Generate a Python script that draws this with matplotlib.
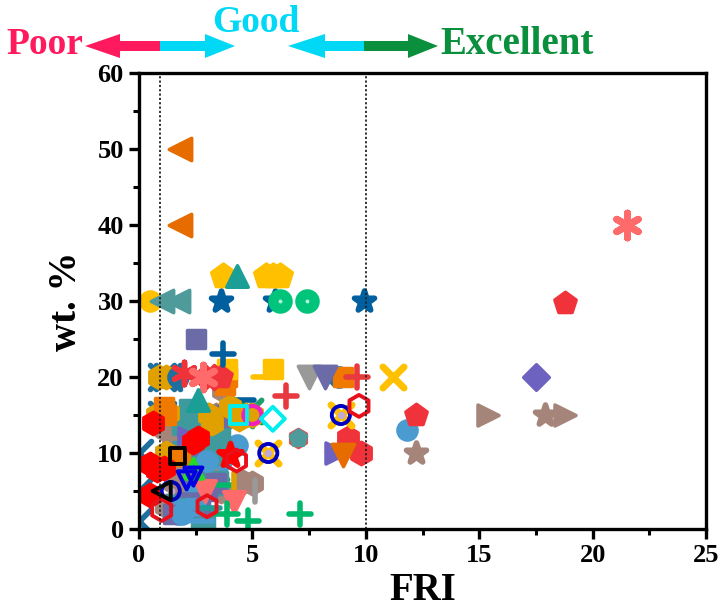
import matplotlib
matplotlib.use('Agg')
import matplotlib.pyplot as plt
from matplotlib.patches import Polygon
from matplotlib.ticker import MultipleLocator
from matplotlib.transforms import Affine2D

plt.rcParams['font.family'] = ['Liberation Serif', 'DejaVu Serif']
plt.rcParams['font.weight'] = 'bold'

# values, drawn back to front
blue_cross_x = [0.0, 0.0, 0.0, 1.0, 1.0, 1.3]
blue_cross_y = [10, 5, 1, 20, 15, 20]
green_cross_x = [4.5, 4.9, 3.2, 3.4]
green_cross_y = [15, 15.5, 10, 8]
taupe_hex_x = [1.3, 2.1, 1.6, 3.0, 3.2, 4.6, 5.0, 3.7, 2.6, 1.2, 1.5, 1.3, 1.6, 3.6, 3.4, 1.2]
taupe_hex_y = [14, 12, 9, 7, 10, 6.2, 6, 18.3, 13, 13, 11, 8, 6, 5, 15, 3]
teal_hex_x = [2.0, 2.6, 2.3, 1.7, 3.3, 3.4, 2.8, 2.3, 2.6, 2.4, 3.5, 2.0]
teal_hex_y = [14, 15, 13, 3, 10, 6, 1.5, 15.5, 13.5, 11.5, 12, 10]
slate_sq_x = [2.5, 3.6, 2.3, 3.0, 2.7, 1.5, 2.4, 3.6, 3.4]
slate_sq_y = [25, 15, 11, 5, 3, 2, 7, 14.8, 6]
purple_right_x = [8.7, 2.2]
purple_right_y = [10, 12]
mid_blue_x = [11.8, 2.7, 3.2, 2.4, 1.7, 2.0, 2.9, 3.6, 4.3, 2.5]
mid_blue_y = [13, 9.5, 7, 4, 2, 6, 11, 9, 11, 8]
top_blue_x = [3.0, 2.5, 1.9]
top_blue_y = [9, 4, 2]
minus_x = [4.6, 1.9, 2.3, 2.8, 2.2, 3.1, 2.6, 5.5, 3.7]
minus_y = [17, 3.5, 2, 1, 4.5, 2.8, 5.5, 20, 5.8]
minus_col = ['#005F9E', '#4A9BCF', '#4A9BCF', '#4A9BCF', '#6B6BA8', '#1A9E96',
             '#4A9BCF', '#FFC000', '#00B86B']
amber_hex_x = [0.9, 1.2, 0.9, 4.7, 5.0, 4.0, 4.4, 1.2, 0.8, 1.3, 3.1, 3.2]
amber_hex_y = [20, 20, 15, 15, 15, 16, 14.5, 10, 15, 15.3, 15, 14]
bar_x = [4.2, 5.1]
bar_y = [6, 5]
bar_col = ['#E0A000', '#999999']
blue_dot_x = [1.7, 8.8]
blue_dot_y = [20, 20]
orange_sq_x = [3.9, 3.8, 9.0, 1.8, 1.2, 1.1]
orange_sq_y = [20, 19, 20, 9.6, 15, 16]
gold_sq_x = [5.9, 3.9]
gold_sq_y = [21, 21]
pure_red_x = [0.6, 0.5, 0.5, 2.4, 2.6, 0.8, 1.1]
pure_red_y = [14, 8.5, 4.5, 11.5, 12, 7.8, 8]
red_hex_x = [9.2, 9.8]
red_hex_y = [12, 10]
red_star_x = [4.0]
red_star_y = [9.8]
red_dia_x = [3.3, 2.9]
red_dia_y = [20, 20]
red_pent_x = [18.8, 12.2, 3.6]
red_pent_y = [29.7, 15, 20]
pink_ast_x = [2.8, 21.5]
pink_ast_y = [20, 40]
red_ast_x = [2.0]
red_ast_y = [20.5]
pink_down_x = [4.2, 2.9]
pink_down_y = [3.5, 5]
grey_down_x = [7.5]
grey_down_y = [20]
slate_down_x = [8.2]
slate_down_y = [20]
orange_down_x = [9.0]
orange_down_y = [9.7]
taupe_right_x = [15.4, 18.8]
taupe_right_y = [15, 15]
taupe_star_x = [17.9, 12.2]
taupe_star_y = [15, 10]
orange_left_x = [1.8, 1.8]
orange_left_y = [50, 40]
teal_left_x = [1.0, 1.7]
teal_left_y = [30, 30]
gold_circ_x = [0.5]
gold_circ_y = [30]
blue_star_x = [3.6, 6.0, 9.9]
blue_star_y = [30, 30, 30]
green_circ_x = [6.2, 7.4]
green_circ_y = [30, 30]
gold_pent_x = [3.7, 5.6, 5.9, 6.2]
gold_pent_y = [33.3, 33.3, 33.3, 33.3]
teal_tri_x = [4.3, 2.6]
teal_tri_y = [33.3, 17]
teal_pent_x = [7.0]
teal_pent_y = [12]
purple_dia_x = [17.5]
purple_dia_y = [20]
gold_cross_x = [11.2, 8.9, 5.7]
gold_cross_y = [20, 15, 10]
red_plus_x = [9.6, 6.5]
red_plus_y = [20, 17.5]
blue_plus_x = [3.7]
blue_plus_y = [23]
green_plus_x = [3.9, 4.8, 7.1]
green_plus_y = [2, 1, 2]
mag_ring_x = [5.0]
mag_ring_y = [15]
blue_ring_x = [8.9, 5.7, 1.4]
blue_ring_y = [15, 10, 5]
red_ring_x = [9.7, 4.3, 3.0, 1.0]
red_ring_y = [16.2, 9, 3, 2.5]
black_sq_x = [1.7]
black_sq_y = [9.6]
cyan_sq_x = [4.4]
cyan_sq_y = [15]
cyan_dia_x = [5.9]
cyan_dia_y = [14.5]
green_tri_x = [2.4]
green_tri_y = [7.9]
blue_down_x = [2.1, 2.4]
blue_down_y = [6.4, 6.9]
black_left_x = [1.0]
black_left_y = [5]

fig = plt.figure(figsize=(7.25, 6.12), dpi=100)
ax = fig.add_axes([139 / 725, 83 / 612, 567 / 725, 456 / 612])


def solid(xs, ys, marker, color, size=170, lw=2.5):
    pts = ax.scatter(xs, ys, marker=marker, s=size, c=color, edgecolors=color,
                     linewidths=lw, zorder=2)
    pts.set_joinstyle('round')


def stroke(xs, ys, marker, color, size=230, lw=4):
    pts = ax.scatter(xs, ys, marker=marker, s=size, c=color, linewidths=lw, zorder=2)
    pts.set_capstyle('round')


def ring(xs, ys, marker, color, size=130, lw=2.5):
    ax.scatter(xs, ys, marker=marker, s=size, facecolors='none', edgecolors=color,
               linewidths=lw, zorder=2)


stroke(blue_cross_x, blue_cross_y, 'x', '#1F6F9E', 300)
stroke(green_cross_x, green_cross_y, 'x', '#1F9E70', 260)
solid(mid_blue_x, mid_blue_y, 'o', '#4A9BCF', 190)
solid(taupe_hex_x, taupe_hex_y, 'h', '#A5857A', 260)
solid(teal_hex_x, teal_hex_y, 's', '#3F9A9E', 240)
solid(slate_sq_x, slate_sq_y, 's', '#6B6BA8', 170)
solid(purple_right_x, purple_right_y, '>', '#6E62C0', 230)
solid(top_blue_x, top_blue_y, 'o', '#4A9BCF', 190)
stroke(minus_x, minus_y, '_', minus_col, 230)
stroke(bar_x, bar_y, '|', bar_col, 230)
solid(amber_hex_x, amber_hex_y, 'h', '#E0A000', 260)
solid(blue_dot_x, blue_dot_y, 'o', '#1F6F9E', 190)
solid(orange_sq_x, orange_sq_y, 's', '#F07A00', 170)
solid(gold_sq_x, gold_sq_y, 's', '#FFC000', 150)
solid(pure_red_x, pure_red_y, 'h', '#FF0000', 260)
solid(red_hex_x, red_hex_y, 'h', '#F0333A', 260)
solid(red_star_x, red_star_y, '*', '#FF0000', 300, 4)
solid(red_dia_x, red_dia_y, 'D', '#F0333A', 150)
solid(red_pent_x, red_pent_y, 'p', '#F0333A', 260)
stroke(red_ast_x, red_ast_y, (6, 2, 0), '#F0333A', 260)
stroke(pink_ast_x, pink_ast_y, (6, 2, 0), '#FF6B6B', 320, 5)
solid(pink_down_x, pink_down_y, 'v', '#FF6B6B', 240)
solid(grey_down_x, grey_down_y, 'v', '#999999', 260)
solid(slate_down_x, slate_down_y, 'v', '#6B6BA8', 260)
solid(orange_down_x, orange_down_y, 'v', '#E66C00', 260)
solid(taupe_right_x, taupe_right_y, '>', '#A5857A', 230)
solid(taupe_star_x, taupe_star_y, '*', '#A5857A', 230, 4)
solid(orange_left_x, orange_left_y, '<', '#E66C00', 260)
solid(gold_circ_x, gold_circ_y, 'o', '#FFC000', 190)
solid(teal_left_x, teal_left_y, '<', '#4F9B9B', 260)
solid(blue_star_x, blue_star_y, '*', '#005F9E', 230, 4)
solid(green_circ_x, green_circ_y, 'o', '#00C47A', 230)
ax.scatter(green_circ_x, green_circ_y, marker='o', s=8, c='#B0F0D8', linewidths=0, zorder=2)
solid(gold_pent_x, gold_pent_y, 'p', '#FFC000', 320)
solid(teal_tri_x, teal_tri_y, '^', '#1A9E96', 240)
solid(teal_pent_x, teal_pent_y, 'h', '#E0504A', 170)
solid(teal_pent_x, teal_pent_y, 'p', '#4F9B9B', 150)
solid(purple_dia_x, purple_dia_y, 'D', '#6E62C0', 170)
stroke(gold_cross_x, gold_cross_y, 'x', '#FFC000', 230, 5)
stroke(red_plus_x, red_plus_y, '+', '#E8393F', 260)
stroke(blue_plus_x, blue_plus_y, '+', '#005F9E', 230)
stroke(green_plus_x, green_plus_y, '+', '#00B86B', 260)
solid(mag_ring_x, mag_ring_y, 'o', '#E0A000', 120)
ring(mag_ring_x, mag_ring_y, 'o', '#F020C0', 170, 3)
solid(blue_ring_x, blue_ring_y, 'o', '#C0A8D8', 20, 1)
ring(blue_ring_x, blue_ring_y, 'o', '#0000C0', 170, 2.8)
ring(red_ring_x, red_ring_y, 'h', '#E8101A', 250, 2.8)
ring(black_sq_x, black_sq_y, 's', 'black', 130, 2.8)
ring(cyan_sq_x, cyan_sq_y, 's', '#00EEEE', 150, 2.8)
ring(cyan_dia_x, cyan_dia_y, 'D', '#00EEEE', 150, 2.8)
ring(green_tri_x, green_tri_y, '^', '#22DD22', 200, 2.8)
ring(blue_down_x, blue_down_y, 'v', '#0000E0', 170, 2.8)
ring(black_left_x, black_left_y, '<', 'black', 170, 2.8)

# FRI class limits
ax.axvline(0.93, color='#222222', lw=1.3, ls=(0, (1.2, 1.2)), zorder=3)
ax.axvline(10, color='#222222', lw=1.3, ls=(0, (1.2, 1.2)), zorder=3)

ax.set_xlim(0, 25)
ax.set_ylim(0, 60)
ax.xaxis.set_major_locator(MultipleLocator(5))
ax.xaxis.set_minor_locator(MultipleLocator(2.5))
ax.yaxis.set_major_locator(MultipleLocator(10))
ax.yaxis.set_minor_locator(MultipleLocator(5))
ax.tick_params(which='major', length=7, width=2.4, labelsize=19, pad=4)
ax.tick_params(which='minor', length=4, width=2.2)
for side in ax.spines.values():
    side.set_linewidth(2.4)
    side.set_zorder(5)

ax.set_xlabel('FRI', fontsize=28, fontweight='bold')
ax.xaxis.set_label_coords(0.5, -0.095, transform=ax.transAxes)
ax.set_ylabel('wt. %', fontsize=28, fontweight='bold')
ax.yaxis.set_label_coords(-0.095, 0.5, transform=ax.transAxes)

# header arrows and class names are drawn in pixel coordinates of the picture
to_px = Affine2D().scale(1 / 725, -1 / 612).translate(0, 1) + fig.transFigure


def half_arrow(tip, base, end, y, color):
    pts = [(tip, y), (base, y - 12), (base, y - 5), (end, y - 5),
           (end, y + 5), (base, y + 5), (base, y + 12)]
    fig.add_artist(Polygon(pts, closed=True, fc=color, ec='none', transform=to_px))


half_arrow(85, 120, 160, 46, '#FF1A5E')
half_arrow(235, 205, 160, 46, '#00D8F5')
half_arrow(288, 325, 366, 46, '#00D8F5')
half_arrow(438, 408, 364, 46, '#0A8F3C')

fig.text(6 / 725, 1 - 44 / 612, 'Poor', color='#FF1A5E', fontsize=27, ha='left', va='center')
fig.text(256 / 725, 1 - 22 / 612, 'Good', color='#00D8F5', fontsize=27, ha='center', va='center')
fig.text(440 / 725, 1 - 44 / 612, 'Excellent', color='#0A8F3C', fontsize=28, ha='left', va='center')

fig.savefig('out.png', dpi=100)
